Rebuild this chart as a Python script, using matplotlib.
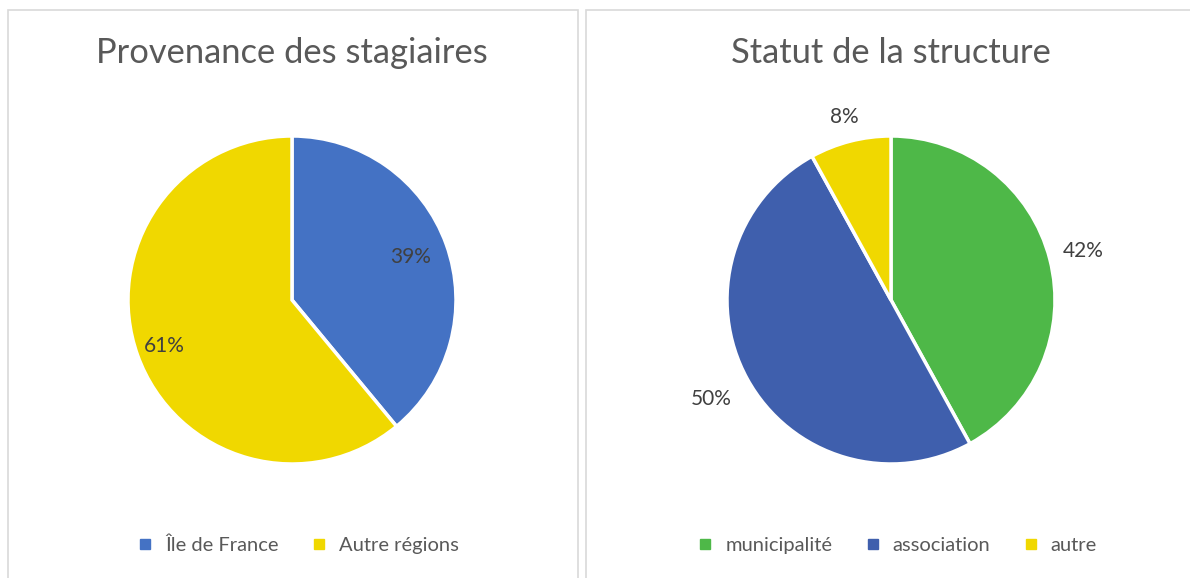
import matplotlib.pyplot as plt
from matplotlib.patches import Rectangle
from matplotlib.lines import Line2D
import numpy as np

plt.rcParams['font.family'] = ['Lato', 'DejaVu Sans']

# données
titre_gauche = 'Provenance des stagiaires'
labels_gauche = ['Île de France', 'Autre régions']
valeurs_gauche = [39, 61]
couleurs_gauche = ['#4472C4', '#F0D800']

titre_droite = 'Statut de la structure'
labels_droite = ['municipalité', 'association', 'autre']
valeurs_droite = [42, 50, 8]
couleurs_droite = ['#4EB848', '#3F5FAD', '#F0D800']

W, H = 1190, 578
fig = plt.figure(figsize=(W / 100, H / 100), dpi=100)


def px(x, y, w, h):
    # pixels (origine en haut à gauche) -> fraction de figure
    return [x / W, 1 - (y + h) / H, w / W, h / H]


# cadres des deux graphiques
for (x0, x1) in [(7.5, 577.5), (585.5, 1200)]:
    fig.patches.append(Rectangle((x0 / W, -0.05), (x1 - x0) / W, 1 - 9.5 / H + 0.05,
                                 transform=fig.transFigure, fill=False,
                                 edgecolor='#D9D9D9', linewidth=1.2))


def camembert(cx, titre, labels, valeurs, couleurs, distances):
    r = 164
    demi = 200
    ax = fig.add_axes(px(cx - demi, 300 - demi, 2 * demi, 2 * demi))
    wedges, textes, pcts = ax.pie(valeurs, colors=couleurs, startangle=90, counterclock=False,
                                  autopct='%1.0f%%',
                                  wedgeprops=dict(edgecolor='white', linewidth=2.5),
                                  textprops=dict(color='#404040', fontsize=15))
    # étiquettes placées à des distances différentes, comme dans Excel
    for w, t, d in zip(wedges, pcts, distances):
        a = np.deg2rad((w.theta1 + w.theta2) / 2)
        t.set_position((d * np.cos(a), d * np.sin(a)))
    ax.set_xlim(-demi / r, demi / r)
    ax.set_ylim(-demi / r, demi / r)
    ax.set_aspect('equal')
    ax.axis('off')
    fig.text(cx / W, 1 - 53 / H, titre, ha='center', va='center',
             fontsize=24.8, color='#595959')
    poignees = [Line2D([], [], marker='s', linestyle='', markersize=7.5,
                       markerfacecolor=c, markeredgecolor=c) for c in couleurs]
    fig.legend(poignees, labels, loc='center', bbox_to_anchor=(cx / W, 1 - 545 / H),
               ncol=len(labels), frameon=False, fontsize=14.5, labelcolor='#595959',
               handletextpad=0.0, columnspacing=1.0)


camembert(292, titre_gauche, labels_gauche, valeurs_gauche, couleurs_gauche, [0.77, 0.83])
camembert(891, titre_droite, labels_droite, valeurs_droite, couleurs_droite, [1.21, 1.25, 1.15])

fig.savefig('out.png', dpi=100)
